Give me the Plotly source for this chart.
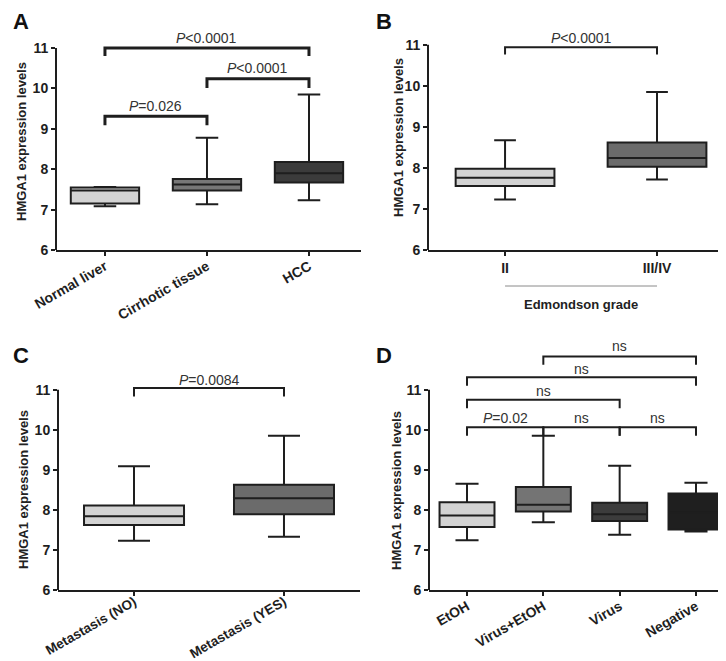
import plotly.graph_objects as go

W, H = 726, 661

# ---------------- data ----------------
a_cats = ["Normal liver", "Cirrhotic tissue", "HCC"]
a_min = [7.08, 7.13, 7.23]
a_q1 = [7.15, 7.47, 7.67]
a_med = [7.47, 7.62, 7.90]
a_q3 = [7.55, 7.76, 8.18]
a_max = [7.56, 8.78, 9.85]
a_colors = ["#d3d3d3", "#777777", "#3b3b3b"]

b_cats = ["II", "III/IV"]
b_min = [7.23, 7.72]
b_q1 = [7.56, 8.03]
b_med = [7.76, 8.24]
b_q3 = [7.98, 8.62]
b_max = [8.67, 9.85]
b_colors = ["#d3d3d3", "#6b6b6b"]

c_cats = ["Metastasis (NO)", "Metastasis (YES)"]
c_min = [7.23, 7.33]
c_q1 = [7.62, 7.89]
c_med = [7.84, 8.29]
c_q3 = [8.11, 8.63]
c_max = [9.09, 9.85]
c_colors = ["#d3d3d3", "#6b6b6b"]

d_cats = ["EtOH", "Virus+EtOH", "Virus", "Negative"]
d_min = [7.24, 7.69, 7.38, 7.46]
d_q1 = [7.57, 7.96, 7.72, 7.51]
d_med = [7.86, 8.13, 7.89, 7.94]
d_q3 = [8.19, 8.57, 8.18, 8.41]
d_max = [8.65, 9.85, 9.10, 8.68]
d_colors = ["#d3d3d3", "#747474", "#3c3c3c", "#1f1f1f"]

# comparisons: (i, j, bracket_y, tick_bottom, label, label_y)
a_cmp = [(0, 1, 9.31, 9.09, "<i>P</i>=0.026", 9.56),
         (1, 2, 10.24, 10.01, "<i>P</i>&lt;0.0001", 10.50),
         (0, 2, 11.0, 10.8, "<i>P</i>&lt;0.0001", 11.25)]
b_cmp = [(0, 1, 10.94, 10.76, "<i>P</i>&lt;0.0001", 11.17)]
c_cmp = [(0, 1, 11.04, 10.83, "<i>P</i>=0.0084", 11.25)]
d_cmp = [(0, 1, 10.06, 9.85, "<i>P</i>=0.02", 10.29),
         (1, 2, 10.06, 9.85, "ns", 10.29),
         (2, 3, 10.06, 9.85, "ns", 10.29),
         (0, 2, 10.75, 10.54, "ns", 10.96),
         (0, 3, 11.31, 11.10, "ns", 11.52),
         (1, 3, 11.83, 11.62, "ns", 12.08)]

y_ticks = [6, 7, 8, 9, 10, 11]

# ---------------- layout helpers (page pixel -> paper fraction) ----------------
def px_x(p):
    return p / W

def px_y(p):
    return 1 - p / H

FONT = "Liberation Sans"
INK = "#1e1e1e"

fig = go.Figure()

panels = [
    dict(cats=a_cats, mn=a_min, q1=a_q1, md=a_med, q3=a_q3, mx=a_max, col=a_colors, cmp=a_cmp,
         xd=(48, 353), yd=(242, 242 - 5.6 * 40.4), xr=[-0.48, 2.51], yr=[6, 11.6],
         bw=0.67, ww=0.33, ang=-30, blw=3, so=-3, fs=14),
    dict(cats=b_cats, mn=b_min, q1=b_q1, md=b_med, q3=b_q3, mx=b_max, col=b_colors, cmp=b_cmp,
         xd=(420, 725), yd=(242, 242 - 5.5 * 41.06), xr=[-0.507, 1.5], yr=[6, 11.5],
         bw=0.65, ww=0.22, ang=0, blw=2, so=0, fs=14),
    dict(cats=c_cats, mn=c_min, q1=c_q1, md=c_med, q3=c_q3, mx=c_max, col=c_colors, cmp=c_cmp,
         xd=(50, 352), yd=(582, 582 - 5.5 * 40.06), xr=[-0.507, 1.507], yr=[6, 11.5],
         bw=0.667, ww=0.32, ang=-30, blw=2, so=-7, fs=13.5),
    dict(cats=d_cats, mn=d_min, q1=d_q1, md=d_med, q3=d_q3, mx=d_max, col=d_colors, cmp=d_cmp,
         xd=(421, 725), yd=(582, 582 - 6.3 * 40.06), xr=[-0.498, 3.485], yr=[6, 12.3],
         bw=0.72, ww=0.42, ang=-30, blw=2, so=-3, fs=14),
]

shapes = []
annotations = []
layout_axes = {}

for k, p in enumerate(panels):
    n = k + 1
    xa = "x" if n == 1 else f"x{n}"
    ya = "y" if n == 1 else f"y{n}"
    xkey = "xaxis" if n == 1 else f"xaxis{n}"
    ykey = "yaxis" if n == 1 else f"yaxis{n}"
    for i in range(len(p["cats"])):
        fig.add_trace(go.Box(
            x=[i], q1=[p["q1"][i]], median=[p["md"][i]], q3=[p["q3"][i]],
            lowerfence=[p["mn"][i]], upperfence=[p["mx"][i]],
            fillcolor=p["col"][i], line=dict(color=INK, width=2),
            width=p["bw"], whiskerwidth=p["ww"], boxpoints=False,
            xaxis=xa, yaxis=ya, showlegend=False, hoverinfo="skip"))
    layout_axes[xkey] = dict(
        domain=[px_x(p["xd"][0]), min(1.0, px_x(p["xd"][1]))], anchor=ya, range=p["xr"],
        tickmode="array", tickvals=list(range(len(p["cats"]))), ticktext=p["cats"],
        tickangle=p["ang"], ticks="outside", ticklen=4, tickwidth=1.5, tickcolor=INK,
        showline=True, linecolor=INK, linewidth=2, showgrid=False, zeroline=False,
        automargin=False, ticklabeloverflow="allow", ticklabelstandoff=p["so"],
        tickfont=dict(family=FONT, size=p["fs"], color=INK, weight="bold"), fixedrange=True)
    layout_axes[ykey] = dict(
        domain=[px_y(p["yd"][0]), px_y(p["yd"][1])], anchor=xa, range=p["yr"],
        tickmode="array", tickvals=y_ticks, ticks="outside", ticklen=4, tickwidth=2,
        tickcolor=INK, showline=False, showgrid=False, zeroline=False,
        automargin=False, ticklabeloverflow="allow",
        tickfont=dict(family=FONT, size=14, color=INK, weight="bold"), fixedrange=True)
    shapes.append(dict(type="line", xref=f"{xa} domain", yref=ya, x0=0, x1=0,
                       y0=6, y1=11, line=dict(color=INK, width=2)))
    for (i, j, yb, yt, lab, ly) in p["cmp"]:
        shapes.append(dict(type="path", xref=xa, yref=ya,
                           path=f"M {i},{yt} L {i},{yb} L {j},{yb} L {j},{yt}",
                           line=dict(color=INK, width=p["blw"])))
        annotations.append(dict(x=(i + j) / 2, y=ly, xref=xa, yref=ya, text=lab,
                                showarrow=False, yanchor="middle",
                                font=dict(family=FONT, size=14, color="#333333")))

for lab, (lx, ly) in zip("ABCD", [(13, 14), (376, 14), (13, 347), (376, 347)]):
    annotations.append(dict(x=px_x(lx), y=px_y(ly), xref="paper", yref="paper", text=f"<b>{lab}</b>",
                            showarrow=False, xanchor="center", yanchor="middle",
                            font=dict(family=FONT, size=22, color="#111111")))

for (tx, ty) in [(13, 134), (390, 130), (15, 482), (388, 482)]:
    annotations.append(dict(x=px_x(tx), y=px_y(ty), xref="paper", yref="paper",
                            text="<b>HMGA1 expression levels</b>", textangle=-90,
                            showarrow=False, xanchor="center", yanchor="middle",
                            font=dict(family=FONT, size=13, color="#222222")))

shapes.append(dict(type="line", xref="x2", yref="paper", x0=0, x1=1,
                   y0=px_y(278), y1=px_y(278), line=dict(color="#8a8a8a", width=1)))
annotations.append(dict(x=0.5, y=px_y(297), xref="x2", yref="paper",
                        text="<b>Edmondson grade</b>", showarrow=False,
                        xanchor="center", yanchor="middle",
                        font=dict(family=FONT, size=13, color="#222222")))

fig.update_layout(width=W, height=H, margin=dict(l=0, r=0, t=0, b=0),
                  paper_bgcolor="white", plot_bgcolor="white",
                  shapes=shapes, annotations=annotations, **layout_axes)

fig.write_html("out.html")
